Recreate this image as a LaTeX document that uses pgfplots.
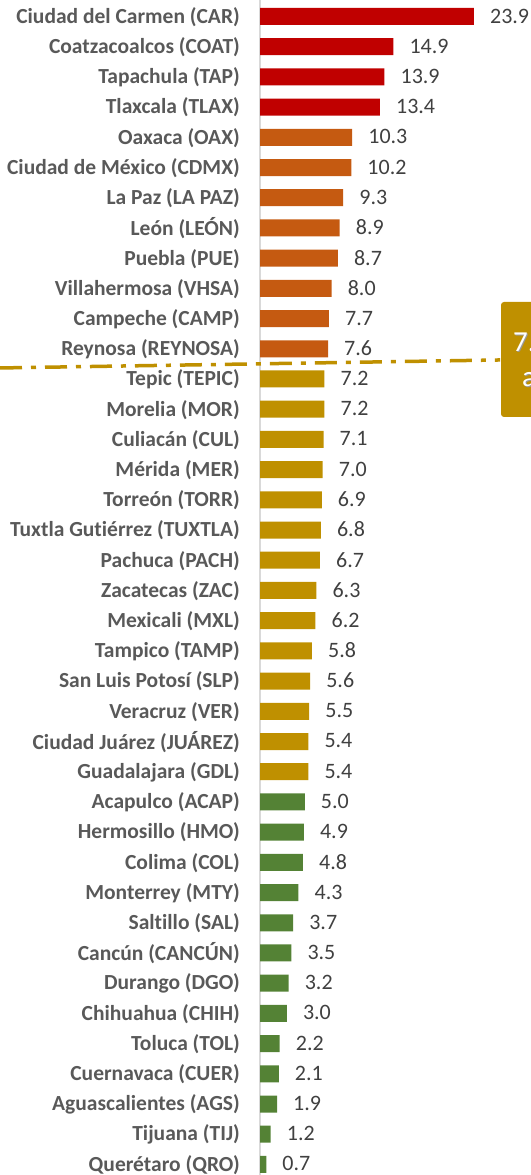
\documentclass[border=0pt]{standalone}
\usepackage{fontspec}
\setmainfont{Carlito}[Ligatures=NoCommon]
\usepackage{pgfplots}
\pgfplotsset{compat=1.18}
\definecolor{cred}{HTML}{C00000}
\definecolor{corange}{HTML}{C55A11}
\definecolor{cgold}{HTML}{BF9000}
\definecolor{cgreen}{HTML}{548235}
\definecolor{labgray}{HTML}{595959}
\definecolor{valgray}{HTML}{404040}
\definecolor{axgray}{HTML}{D9D9D9}
\begin{document}
\begin{tikzpicture}[x=1bp,y=1bp]
\begin{axis}[
  at={(260bp,0bp)}, anchor=south west,
  scale only axis, width=271bp, height=1175bp,
  xmin=0, xmax=30.28, ymin=-0.546, ymax=38.35, y dir=reverse,
  axis x line=none, axis y line*=left,
  y axis line style={axgray, line width=1.5bp},
  ytick={0,...,38},
  yticklabels={Ciudad del Carmen (CAR), Coatzacoalcos (COAT), Tapachula (TAP), Tlaxcala (TLAX), Oaxaca (OAX), Ciudad de México (CDMX), La Paz (LA PAZ), León (LEÓN), Puebla (PUE), Villahermosa (VHSA), Campeche (CAMP), Reynosa (REYNOSA), Tepic (TEPIC), Morelia (MOR), Culiacán (CUL), Mérida (MER), Torreón (TORR), Tuxtla Gutiérrez (TUXTLA), Pachuca (PACH), Zacatecas (ZAC), Mexicali (MXL), Tampico (TAMP), San Luis Potosí (SLP), Veracruz (VER), Ciudad Juárez (JUÁREZ), Guadalajara (GDL), Acapulco (ACAP), Hermosillo (HMO), Colima (COL), Monterrey (MTY), Saltillo (SAL), Cancún (CANCÚN), Durango (DGO), Chihuahua (CHIH), Toluca (TOL), Cuernavaca (CUER), Aguascalientes (AGS), Tijuana (TIJ), Querétaro (QRO)},
  major tick length=0pt,
  yticklabel style={font=\fontsize{21.5bp}{26bp}\selectfont\bfseries, text=labgray, inner sep=0pt, anchor=east, xshift=-20bp, yshift=-0.5bp},
  xbar, bar width=17bp,
  nodes near coords={\pgfmathprintnumber[fixed,fixed zerofill,precision=1,assume math mode=true]{\pgfplotspointmeta}},
  every node near coord/.append style={font=\fontsize{22bp}{26bp}\selectfont, text=valgray, anchor=west, inner sep=0pt, xshift=16bp, yshift=0.5bp},
  clip=false,
]
\addplot[fill=cred, draw=none, bar shift=0pt] coordinates {(23.9,0) (14.9,1) (13.9,2) (13.4,3)};
\addplot[fill=corange, draw=none, bar shift=0pt] coordinates {(10.3,4) (10.2,5) (9.3,6) (8.9,7) (8.7,8) (8.0,9) (7.7,10) (7.6,11)};
\addplot[fill=cgold, draw=none, bar shift=0pt] coordinates {(7.2,12) (7.2,13) (7.1,14) (7.0,15) (6.9,16) (6.8,17) (6.7,18) (6.3,19) (6.2,20) (5.8,21) (5.6,22) (5.5,23) (5.4,24) (5.4,25)};
\addplot[fill=cgreen, draw=none, bar shift=0pt] coordinates {(5.0,26) (4.9,27) (4.8,28) (4.3,29) (3.7,30) (3.5,31) (3.2,32) (3.0,33) (2.2,34) (2.1,35) (1.9,36) (1.2,37) (0.7,38)};
\draw[cgold, line width=3.5bp, dash pattern=on 22bp off 9bp on 5bp off 9bp] (axis cs:-29.05,11.635) -- (axis cs:26.82,11.37);
\end{axis}
\fill[cgold, rounded corners=3bp] (501,873) rectangle (640,758);
\node[anchor=base west, inner sep=0pt, text=black!40, font=\fontsize{29bp}{35bp}\selectfont] at (514,822) {7.4};
\node[anchor=base west, inner sep=0pt, text=white, font=\fontsize{29bp}{35bp}\selectfont] at (513,823) {7.4};
\node[anchor=base west, inner sep=0pt, text=black!40, font=\fontsize{29bp}{35bp}\selectfont] at (523,787) {anual};
\node[anchor=base west, inner sep=0pt, text=white, font=\fontsize{29bp}{35bp}\selectfont] at (522,788) {anual};
\pgfresetboundingbox
\useasboundingbox (0,0) rectangle (531,1175);
\end{tikzpicture}
\end{document}
